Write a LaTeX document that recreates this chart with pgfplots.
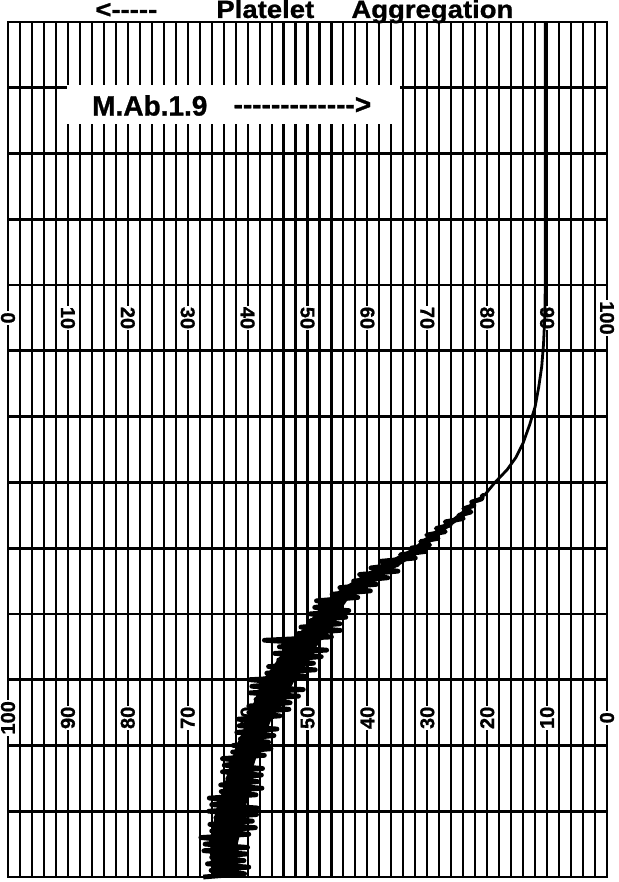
\documentclass[border=0pt]{standalone}
\usepackage{pgfplots}
\pgfplotsset{compat=1.18}
\usepackage{fontspec}
\newfontfamily\heavy{Liberation Sans}[FakeBold=1]
\newfontfamily\heavytitle{Liberation Sans}[FakeBold=1, FakeStretch=1.1]
\tikzset{lab/.style={font=\heavy\bfseries\fontsize{10}{10}\selectfont, fill=white, inner sep=0.6pt}}
\begin{document}
\begin{tikzpicture}
\begin{axis}[
  at={(4pt,2.5pt)}, anchor=south west,
  scale only axis, width=299.5pt, height=427.5pt,
  xmin=0, xmax=100, ymin=0, ymax=13, y dir=reverse,
  xtick={0,2,...,100}, ytick={0,1,...,13},
  xticklabels={}, yticklabels={},
  major tick length=0pt,
  grid=major,
  major x grid style={black, line width=1.05pt},
  major y grid style={black, line width=1.4pt},
  axis line style={black, line width=1.4pt},
  clip=false,
]
% label box
\fill[white] (axis cs:9.8,0.96) rectangle (axis cs:65.4,1.55);
\node[anchor=west, font=\heavy\bfseries\fontsize{14}{14}\selectfont, inner sep=0pt] at (axis cs:14.0,1.27) {M.Ab.1.9};
\node[anchor=west, font=\heavy\bfseries\fontsize{14}{14}\selectfont, inner sep=0pt] at (axis cs:37.6,1.27) {-{}-{}-{}-{}-{}-{}-{}-{}-{}-{}-{}-{}->};
% first row of scale labels
\node[lab, rotate=-90] at (axis cs:0,4.5) {0};
\node[lab, rotate=-90] at (axis cs:10,4.5) {10};
\node[lab, rotate=-90] at (axis cs:20,4.5) {20};
\node[lab, rotate=-90] at (axis cs:30,4.5) {30};
\node[lab, rotate=-90] at (axis cs:40,4.5) {40};
\node[lab, rotate=-90] at (axis cs:50,4.5) {50};
\node[lab, rotate=-90] at (axis cs:60,4.5) {60};
\node[lab, rotate=-90] at (axis cs:70,4.5) {70};
\node[lab, rotate=-90] at (axis cs:80,4.5) {80};
\node[lab, rotate=-90] at (axis cs:90,4.5) {90};
\node[lab, rotate=-90] at (axis cs:100,4.5) {100};
% second row of scale labels
\node[lab, rotate=90] at (axis cs:0,10.58) {100};
\node[lab, rotate=90] at (axis cs:10,10.58) {90};
\node[lab, rotate=90] at (axis cs:20,10.58) {80};
\node[lab, rotate=90] at (axis cs:30,10.58) {70};
\node[lab, rotate=90] at (axis cs:40,10.58) {60};
\node[lab, rotate=90] at (axis cs:50,10.58) {50};
\node[lab, rotate=90] at (axis cs:60,10.58) {40};
\node[lab, rotate=90] at (axis cs:70,10.58) {30};
\node[lab, rotate=90] at (axis cs:80,10.58) {20};
\node[lab, rotate=90] at (axis cs:90,10.58) {10};
\node[lab, rotate=90] at (axis cs:100,10.58) {0};
% clean part of the trace
\addplot[black, line width=1.4pt, line join=round] coordinates {
(89.7,0) (89.7,4.0) (89.6,4.5) (89.4,4.9) (89.1,5.24) (88.6,5.55) (88.0,5.85)
(87.1,6.12) (86.0,6.40) (84.8,6.62) (83.3,6.81) (81.3,7.0) (79.5,7.2)
};
% solid core of the noisy band
\addplot[fill=black, draw=none] coordinates {
(77.5,7.3) (77.1,7.4) (74.9,7.6) (71.8,7.8) (69.4,8.0) (66.4,8.2) (62.9,8.4)
(59.5,8.6) (56.6,8.8) (55.1,9.0) (53.7,9.2) (52.3,9.4) (50.7,9.6) (49.0,9.8)
(47.9,10.0) (46.8,10.2) (45.2,10.4) (44.0,10.6) (43.1,10.8) (42.1,11.0) (41.4,11.2)
(40.7,11.4) (40.3,11.6) (40.0,11.8) (39.6,12.0) (39.1,12.2) (38.6,12.4) (38.1,12.6)
(38.1,12.8) (38.2,13.0)
(34.2,13.0) (33.9,12.8) (33.7,12.6) (34.0,12.4) (34.3,12.2) (34.6,12.0) (35.4,11.8)
(36.1,11.6) (36.7,11.4) (37.4,11.2) (38.1,11.0) (39.1,10.8) (40.0,10.6) (40.8,10.4)
(41.6,10.2) (42.5,10.0) (44.2,9.8) (45.7,9.6) (47.5,9.4) (49.5,9.2) (51.3,9.0)
(53.0,8.8) (55.9,8.6) (59.5,8.4) (63.4,8.2) (67.6,8.0) (70.2,7.8) (73.5,7.6) (76.3,7.4)
} -- cycle;
% noisy part of the trace
\addplot[black, line width=2.4pt, line join=round] table[row sep=\\] {
x y\\
79.5 7.20\\ 79.2 7.20\\ 79.1 7.25\\ 77.4 7.30\\ 77.8 7.35\\ 76.1 7.40\\ 77.3 7.45\\
75.3 7.50\\ 76.0 7.55\\ 73.0 7.60\\ 73.8 7.65\\ 71.5 7.70\\ 73.0 7.75\\ 69.9 7.80\\
71.8 7.85\\ 68.9 7.90\\ 70.4 7.95\\ 67.3 8.00\\ 69.7 8.05\\ 65.5 8.10\\ 68.0 8.15\\
62.2 8.20\\ 65.0 8.25\\ 60.6 8.30\\ 65.1 8.35\\ 58.7 8.40\\ 63.4 8.45\\ 57.7 8.50\\
61.5 8.55\\ 55.4 8.60\\ 60.5 8.65\\ 54.1 8.70\\ 58.4 8.75\\ 51.5 8.80\\ 55.6 8.85\\
51.2 8.90\\ 56.9 8.95\\ 50.4 9.00\\ 56.4 9.05\\ 50.6 9.10\\ 55.4 9.15\\ 48.9 9.20\\
55.5 9.25\\ 48.4 9.30\\ 54.0 9.35\\ 42.8 9.40\\ 51.2 9.45\\ 45.3 9.50\\ 53.2 9.55\\
44.5 9.60\\ 52.3 9.65\\ 45.2 9.70\\ 51.0 9.75\\ 43.5 9.80\\ 51.3 9.85\\ 43.2 9.90\\
49.8 9.95\\ 40.3 10.00\\ 47.0 10.05\\ 40.7 10.10\\ 49.3 10.15\\ 40.4 10.20\\ 48.5 10.25\\
41.4 10.30\\ 47.1 10.35\\ 40.2 10.40\\ 46.9 10.45\\ 40.2 10.50\\ 45.4 10.55\\ 38.4 10.60\\
43.1 10.65\\ 38.6 10.70\\ 44.9 10.75\\ 38.2 10.80\\ 44.4 10.85\\ 38.8 10.90\\ 43.5 10.95\\
37.6 11.00\\ 43.9 11.05\\ 37.5 11.10\\ 42.8 11.15\\ 35.8 11.20\\ 40.6 11.25\\ 36.1 11.30\\
42.5 11.35\\ 35.8 11.40\\ 42.3 11.45\\ 36.7 11.50\\ 41.7 11.55\\ 35.5 11.60\\ 42.4 11.65\\
35.6 11.70\\ 41.4 11.75\\ 33.6 11.80\\ 39.2 11.85\\ 34.0 11.90\\ 41.6 11.95\\ 33.5 12.00\\
41.5 12.05\\ 34.7 12.10\\ 40.8 12.15\\ 33.7 12.20\\ 41.3 12.25\\ 34.0 12.30\\ 40.2 12.35\\
32.2 12.40\\ 37.8 12.45\\ 32.9 12.50\\ 40.0 12.55\\ 32.7 12.60\\ 39.8 12.65\\ 34.0 12.70\\
39.4 12.75\\ 33.3 12.80\\ 40.2 12.85\\ 33.9 12.90\\ 39.5 12.95\\ 32.6 13.00\\
};
\end{axis}
% title
\node[anchor=base west, inner sep=0pt, font=\heavytitle\bfseries\fontsize{12.5}{12.5}\selectfont] at (47.5pt,432pt) {<-{}-{}-{}-{}-};
\node[anchor=base west, inner sep=0pt, font=\heavytitle\bfseries\fontsize{12.5}{12.5}\selectfont] at (108pt,432pt) {Platelet};
\node[anchor=base west, inner sep=0pt, font=\heavytitle\bfseries\fontsize{12.5}{12.5}\selectfont] at (175.5pt,432pt) {Aggregation};
\pgfresetboundingbox
\path[use as bounding box] (0,0) rectangle (309pt,441pt);
\end{tikzpicture}
\end{document}
